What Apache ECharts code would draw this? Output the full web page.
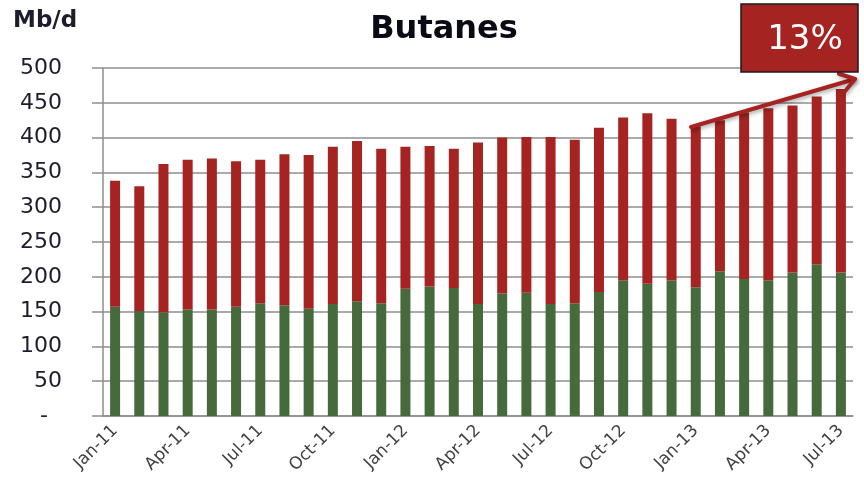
<!DOCTYPE html>
<html>
<head>
<meta charset="utf-8">
<script src="https://cdn.jsdelivr.net/npm/echarts@6/dist/echarts.min.js"></script>
<style>
  html, body { margin: 0; padding: 0; background: #fff; }
  #chart { width: 864px; height: 483px; }
</style>
</head>
<body>
<div id="chart"></div>
<script>
const months = [
  'Jan-11', 'Feb-11', 'Mar-11', 'Apr-11', 'May-11', 'Jun-11', 'Jul-11', 'Aug-11', 'Sep-11', 'Oct-11', 'Nov-11', 'Dec-11',
  'Jan-12', 'Feb-12', 'Mar-12', 'Apr-12', 'May-12', 'Jun-12', 'Jul-12', 'Aug-12', 'Sep-12', 'Oct-12', 'Nov-12', 'Dec-12',
  'Jan-13', 'Feb-13', 'Mar-13', 'Apr-13', 'May-13', 'Jun-13', 'Jul-13'
];

// lower (green) part of each bar, Mb/d
const greenValues = [157, 151, 149, 153, 153, 157, 162, 159, 154, 161, 165, 162,
  183, 186, 184, 161, 176, 177, 161, 162, 178, 195, 190, 195,
  185, 208, 197, 195, 206, 218, 206];

// upper (red) part stacked on top, Mb/d
const redValues = [181, 179, 213, 215, 217, 209, 206, 217, 221, 226, 230, 222,
  204, 202, 200, 232, 224, 224, 240, 235, 236, 234, 245, 232,
  231, 217, 239, 247, 240, 241, 264];

const yMax = 500;
const yStep = 50;

const RED = '#a52422';
const GREEN = '#466a3c';
const GRID = '#8e8e8e';
const FONT = 'DejaVu Sans';

const chart = echarts.init(document.getElementById('chart'));

// arrow annotation
const arrowFrom = [691, 127];
const arrowTo = [855, 79];
const ang = Math.atan2(arrowTo[1] - arrowFrom[1], arrowTo[0] - arrowFrom[0]);
const wing = 17, spread = 0.6;
const wingA = [arrowTo[0] - wing * Math.cos(ang - spread), arrowTo[1] - wing * Math.sin(ang - spread)];
const wingB = [arrowTo[0] - wing * Math.cos(ang + spread), arrowTo[1] - wing * Math.sin(ang + spread)];
const arrowStyle = {
  stroke: RED, lineWidth: 4, lineCap: 'round', lineJoin: 'round', fill: null,
  shadowBlur: 4, shadowColor: 'rgba(0,0,0,0.35)', shadowOffsetX: 1, shadowOffsetY: 2
};

chart.setOption({
  animation: false,
  textStyle: { fontFamily: FONT },
  grid: { left: 103, right: 11, top: 68, bottom: 67 },
  xAxis: {
    type: 'category',
    data: months,
    axisLine: { lineStyle: { color: GRID, width: 1.5 } },
    axisTick: { interval: 2, length: 7, lineStyle: { color: GRID, width: 1.5 } },
    axisLabel: {
      interval: 2, rotate: 45, margin: 12,
      fontSize: 17, color: '#404040', fontFamily: FONT
    }
  },
  yAxis: {
    type: 'value',
    min: 0, max: yMax, interval: yStep,
    axisLine: { show: true, lineStyle: { color: GRID, width: 1.5 } },
    axisTick: { show: true, length: 11, lineStyle: { color: GRID, width: 1.5 } },
    splitLine: { lineStyle: { color: GRID, width: 1.5 } },
    axisLabel: {
      margin: 41, fontSize: 22, color: '#1c1c2c', fontFamily: FONT,
      formatter: v => (v === 0 ? '-  ' : String(v))
    }
  },
  series: [
    {
      type: 'bar', stack: 'total', data: greenValues, barWidth: 10,
      itemStyle: { color: GREEN }
    },
    {
      type: 'bar', stack: 'total', data: redValues, barWidth: 10,
      itemStyle: { color: RED }
    }
  ],
  graphic: [
    {
      type: 'text', left: 13, top: 10,
      style: { text: 'Mb/d', font: 'bold 23px "DejaVu Sans"', fill: '#1c1c2c' }
    },
    {
      type: 'text', x: 444, y: 30,
      style: {
        text: 'Butanes', font: 'bold 32px "DejaVu Sans"', fill: '#0a0a14',
        textAlign: 'center', textVerticalAlign: 'middle'
      }
    },
    {
      type: 'line', z: 100,
      shape: { x1: arrowFrom[0], y1: arrowFrom[1], x2: arrowTo[0], y2: arrowTo[1] },
      style: arrowStyle
    },
    {
      type: 'polyline', z: 100,
      shape: { points: [wingA, arrowTo, wingB] },
      style: arrowStyle
    },
    {
      type: 'rect', z: 100,
      shape: { x: 741, y: 4, width: 117, height: 68 },
      style: { fill: RED, stroke: '#1a1a1a', lineWidth: 1.5 }
    },
    {
      type: 'text', z: 101, x: 805, y: 40,
      style: {
        text: '13%', font: '34px "DejaVu Sans"', fill: '#ffffff',
        textAlign: 'center', textVerticalAlign: 'middle'
      }
    }
  ]
});
</script>
</body>
</html>
